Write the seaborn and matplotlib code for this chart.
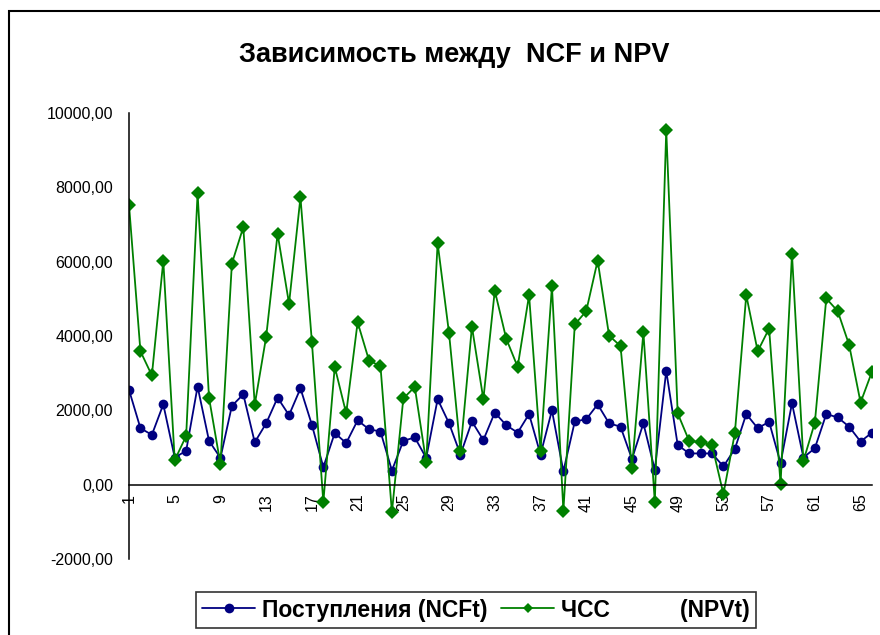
import pandas as pd
import matplotlib
matplotlib.use("Agg")
import matplotlib.pyplot as plt
from matplotlib.lines import Line2D
from matplotlib.patches import Rectangle
from matplotlib.ticker import FuncFormatter
import seaborn as sns

# Data
periods = list(range(1, 67))
ncf = [2550, 1520, 1340, 2160, 730, 910, 2640, 1180, 720, 2120,
       2430, 1140, 1650, 2340, 1870, 2590, 1610, 470, 1390, 1120,
       1730, 1490, 1430, 380, 1180, 1270, 720, 2300, 1650, 810,
       1700, 1200, 1940, 1600, 1400, 1900, 810, 2000, 360, 1700,
       1760, 2160, 1650, 1560, 690, 1650, 400, 3060, 1070, 840,
       840, 840, 490, 960, 1900, 1520, 1690, 580, 2190, 730,
       980, 1900, 1810, 1560, 1160, 1400]
npv = [7530, 3590, 2940, 6020, 660, 1310, 7840, 2340, 550, 5950,
       6930, 2150, 3980, 6750, 4870, 7730, 3840, -470, 3170, 1920,
       4370, 3340, 3190, -740, 2320, 2630, 600, 6500, 4070, 910,
       4250, 2300, 5220, 3930, 3170, 5100, 910, 5340, -700, 4310,
       4670, 6030, 4010, 3730, 440, 4100, -470, 9540, 1920, 1180,
       1140, 1070, -250, 1380, 5100, 3590, 4200, 20, 6200, 640,
       1670, 5010, 4670, 3760, 2210, 3040]
series_names = ["Поступления (NCFt)", "ЧСС           (NPVt)"]
y_ticks = [-2000, 0, 2000, 4000, 6000, 8000, 10000]

df = pd.DataFrame({
    "t": periods * 2,
    "value": ncf + npv,
    "series": [series_names[0]] * len(ncf) + [series_names[1]] * len(npv),
})

sns.set_style("white")
plt.rcParams["font.family"] = ["Liberation Sans", "DejaVu Sans"]
plt.rcParams["text.color"] = "black"
plt.rcParams["xtick.color"] = "black"
plt.rcParams["ytick.color"] = "black"

colors = {series_names[0]: "#000080", series_names[1]: "#008000"}
markers = {series_names[0]: "o", series_names[1]: "D"}

fig = plt.figure(figsize=(8.8, 6.35), dpi=100)
ax = fig.add_axes([129 / 880, 1 - 559 / 635, (872 - 129) / 880, (559 - 113) / 635])

sns.lineplot(data=df, x="t", y="value", hue="series", style="series",
             palette=colors, markers=markers, dashes=False, sort=False,
             linewidth=1.3, markersize=7, markeredgewidth=0, legend=False, ax=ax)

ax.set_xlim(1, 66)
ax.set_ylim(-2000, 10000)
ax.set_xlabel("")
ax.set_ylabel("")

# Excel-like axes: y axis at first category, x axis crossing at zero
for s in ["top", "right"]:
    ax.spines[s].set_visible(False)
ax.spines["left"].set_position(("data", 1))
ax.spines["bottom"].set_position(("data", 0))
for s in ["left", "bottom"]:
    ax.spines[s].set_color("black")
    ax.spines[s].set_linewidth(1.1)

ax.set_xticks(periods)
ax.set_xticklabels([str(p) if (p - 1) % 4 == 0 else "" for p in periods], rotation=90)
ax.set_yticks(y_ticks)
ax.yaxis.set_major_formatter(FuncFormatter(lambda v, _: f"{v:.2f}".replace(".", ",")))
ax.tick_params(axis="both", direction="inout", length=9, width=1, color="black",
               labelsize=11.5, labelcolor="black")
ax.tick_params(axis="y", pad=7)
ax.tick_params(axis="x", pad=2)
ax.grid(False)

fig.text(454 / 880, 1 - 55 / 635, "Зависимость между  NCF и NPV",
         ha="center", va="center", fontsize=19.5, fontweight="bold", color="black")

handles = [Line2D([], [], color=colors[n], marker=markers[n], markersize=7 if n == series_names[0] else 5.5,
                  linewidth=1.3, markeredgewidth=0) for n in series_names]
leg = fig.legend(handles, series_names, loc="center", bbox_to_anchor=(476 / 880, 1 - 610 / 635),
                 ncol=2, frameon=True, fancybox=False, edgecolor="black", handlelength=2.3,
                 handletextpad=0.3, columnspacing=0.6, borderpad=0.3,
                 prop={"weight": "bold", "size": 16.5})
leg.get_frame().set_linewidth(1.2)

# outer chart border (left and top edges visible)
fig.patches.append(Rectangle((9 / 880, -0.05), 1.2, 1 - 11 / 635 + 0.05, fill=False,
                             edgecolor="black", linewidth=1.5, transform=fig.transFigure))

fig.savefig("out.png", dpi=100)
